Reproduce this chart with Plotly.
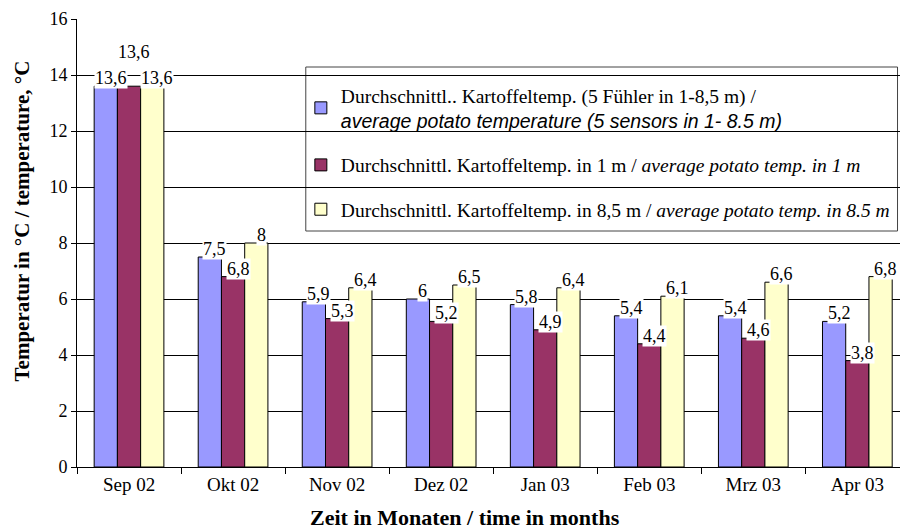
import plotly.graph_objects as go

months = ["Sep 02", "Okt 02", "Nov 02", "Dez 02", "Jan 03", "Feb 03", "Mrz 03", "Apr 03"]
avg_all = [13.6, 7.5, 5.9, 6.0, 5.8, 5.4, 5.4, 5.2]
avg_1m = [13.6, 6.8, 5.3, 5.2, 4.9, 4.4, 4.6, 3.8]
avg_85m = [13.6, 8.0, 6.4, 6.5, 6.4, 6.1, 6.6, 6.8]

names = [
    "Durchschnittl.. Kartoffeltemp. (5 Fühler in 1-8,5 m) /<br><span style='font-family:Liberation Sans'><i>average potato temperature (5 sensors in 1- 8.5 m)</i></span>",
    "Durchschnittl. Kartoffeltemp. in 1 m / <i>average potato temp. in 1 m</i>",
    "Durchschnittl. Kartoffeltemp. in 8,5 m / <i>average potato temp. in 8.5 m</i>",
]
colors = ["#9999FF", "#993366", "#FFFFCC"]
series = [avg_all, avg_1m, avg_85m]

SERIF = "Times New Roman"
BARGAP = 0.33

fig = go.Figure()
for k, (vals, nm, col) in enumerate(zip(series, names, colors)):
    fig.add_trace(go.Bar(
        x=months, y=vals, name=nm, legendgroup=str(k),
        marker=dict(color=col, line=dict(color="black", width=1)),
    ))

w = (1 - BARGAP) / 3
for k, vals in enumerate(series):
    for i, v in enumerate(vals):
        extra = 26 if (i == 0 and k == 1) else 0
        fig.add_annotation(
            x=i + (k - 1) * w, y=v, xref="x", yref="y",
            text=f"{v:g}".replace(".", ","), showarrow=False,
            yanchor="bottom", yshift=-3 + extra, xshift=5,
            bgcolor="white", borderpad=0,
            font=dict(family=SERIF, size=18, color="black"),
        )

# axis titles
fig.add_annotation(
    text="<b>Zeit in Monaten / time in months</b>", xref="paper", yref="paper",
    x=0.471, y=0, yshift=-50, xanchor="center", yanchor="middle", showarrow=False,
    font=dict(family=SERIF, size=22, color="black"),
)
fig.add_annotation(
    text="<b>Temperatur in °C / temperature, °C</b>", xref="paper", yref="paper",
    x=0, xshift=-55, y=0.548, xanchor="center", yanchor="middle", textangle=-90,
    showarrow=False, font=dict(family=SERIF, size=21, color="black"),
)

# legend frame
fig.add_shape(
    type="rect", xref="paper", yref="paper", layer="between",
    x0=0.278, x1=0.997, y0=(467 - 231) / 448, y1=(467 - 67) / 448,
    fillcolor="white", line=dict(color="#444", width=1),
)

fig.update_layout(
    width=900, height=532,
    margin=dict(l=77, r=0, t=19, b=65),
    paper_bgcolor="white", plot_bgcolor="white",
    barmode="group", bargap=BARGAP, bargroupgap=0,
    font=dict(family=SERIF, size=18, color="black"),
    showlegend=True,
    legend=dict(
        x=0.272, y=(467 - 76) / 448, xanchor="left", yanchor="top",
        bgcolor="rgba(0,0,0,0)", borderwidth=0,
        font=dict(family=SERIF, size=19.5, color="black"),
        tracegroupgap=16, itemwidth=30,
    ),
    xaxis=dict(
        type="category", range=[-0.5, 7.41], showline=True, linecolor="black", linewidth=1,
        ticks="outside", tickson="boundaries", ticklen=6, tickcolor="black",
        tickfont=dict(family=SERIF, size=19),
        showgrid=False,
    ),
    yaxis=dict(
        range=[0, 16], dtick=2, showline=True, linecolor="black", linewidth=1,
        ticks="outside", ticklen=5, tickcolor="black",
        showgrid=True, gridcolor="black", gridwidth=1,
        tickfont=dict(family=SERIF, size=18),
        zeroline=False,
    ),
)

fig.write_html("out.html", config={"displayModeBar": False},
               post_script="document.body.style.margin='0';")
